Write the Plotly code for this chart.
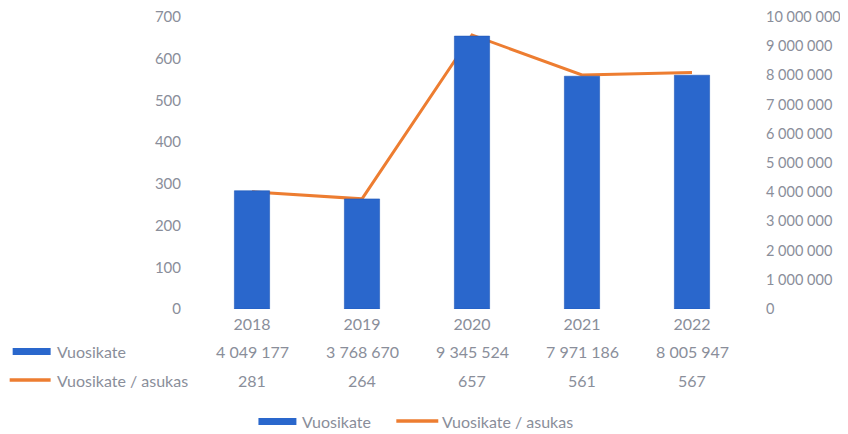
import plotly.graph_objects as go

years = ["2018", "2019", "2020", "2021", "2022"]
vuosikate = [4049177, 3768670, 9345524, 7971186, 8005947]
per_asukas = [281, 264, 657, 561, 567]
left_ticks = [0, 100, 200, 300, 400, 500, 600, 700]
right_ticks = [0, 1000000, 2000000, 3000000, 4000000, 5000000,
               6000000, 7000000, 8000000, 9000000, 10000000]
series_names = ["Vuosikate", "Vuosikate / asukas"]

# page has an 8px body margin; work in page pixel coordinates
OFF = 8
W, H = 848 - OFF, 434 - OFF
PL, PR, PT, PB = 196.5, 747, 17, 309   # plot area in page pixels
L, R, T, B = PL - OFF, W - (PR - OFF), PT - OFF, H - (PB - OFF)
PW, PH = PR - PL, PB - PT

def px(x):
    return (x - PL) / PW

def py(y):
    return (PB - y) / PH

BLUE = "#2A67CC"
ORANGE = "#ED7D31"
GREY = "#8A8E9A"
FONT = "Lato"
FS = 16
FT = 15
FR = 14.5

def fmt(v):
    return f"{v:,}".replace(",", " ")

fig = go.Figure()
fig.add_trace(go.Bar(x=years, y=vuosikate, name=series_names[0], yaxis="y2",
                     marker=dict(color=BLUE, line=dict(color="#1F58B8", width=0.6)),
                     width=0.32))
fig.add_trace(go.Scatter(x=years, y=per_asukas, name=series_names[1], yaxis="y",
                         mode="lines", line=dict(color=ORANGE, width=3)))

annotations = []
shapes = []
row_y = [351, 380]
n = len(years)
for i in range(n):
    cx = (i + 0.5) / n
    annotations.append(dict(x=cx, xref="paper", y=py(row_y[0]), yref="paper",
                            text=fmt(vuosikate[i]), showarrow=False,
                            xanchor="center", yanchor="middle",
                            font=dict(family=FONT, size=FS, color=GREY)))
    annotations.append(dict(x=cx, xref="paper", y=py(row_y[1]), yref="paper",
                            text=str(per_asukas[i]), showarrow=False,
                            xanchor="center", yanchor="middle",
                            font=dict(family=FONT, size=FS, color=GREY)))

# table row keys
shapes.append(dict(type="rect", xref="paper", yref="paper",
                   x0=px(12), x1=px(50), y0=py(355), y1=py(348),
                   fillcolor=BLUE, line=dict(width=0)))
shapes.append(dict(type="line", xref="paper", yref="paper",
                   x0=px(9), x1=px(50), y0=py(380), y1=py(380),
                   line=dict(color=ORANGE, width=3.5)))
for name, yy in zip(series_names, row_y):
    annotations.append(dict(x=px(54), xref="paper", y=py(yy), yref="paper",
                            text=name, showarrow=False, xanchor="left",
                            yanchor="middle",
                            font=dict(family=FONT, size=FS, color=GREY)))

# bottom legend
shapes.append(dict(type="rect", xref="paper", yref="paper",
                   x0=px(258), x1=px(296), y0=py(425), y1=py(418),
                   fillcolor=BLUE, line=dict(width=0)))
shapes.append(dict(type="line", xref="paper", yref="paper",
                   x0=px(396), x1=px(438), y0=py(421), y1=py(421),
                   line=dict(color=ORANGE, width=3.5)))
annotations.append(dict(x=px(300), xref="paper", y=py(421), yref="paper",
                        text=series_names[0], showarrow=False, xanchor="left",
                        yanchor="middle",
                        font=dict(family=FONT, size=FS, color=GREY)))
annotations.append(dict(x=px(440), xref="paper", y=py(421), yref="paper",
                        text=series_names[1], showarrow=False, xanchor="left",
                        yanchor="middle",
                        font=dict(family=FONT, size=FS, color=GREY)))

fig.update_layout(
    width=W, height=H,
    margin=dict(l=L, r=R, t=T, b=B, pad=0, autoexpand=False),
    paper_bgcolor="white", plot_bgcolor="white",
    showlegend=False,
    separators=", ",
    font=dict(family=FONT, size=FS, color=GREY),
    xaxis=dict(type="category", range=[-0.5, n - 0.5], showgrid=False,
               zeroline=False, showline=False, ticks="", automargin=False,
               ticklabelstandoff=4, ticklabeloverflow="allow",
               tickfont=dict(size=FS, color=GREY)),
    yaxis=dict(range=[0, 700], tickvals=left_ticks, showgrid=False, zeroline=False,
               showline=False, ticks="", ticklabelstandoff=15, automargin=False,
               ticklabeloverflow="allow",
               tickfont=dict(size=FT, color=GREY)),
    yaxis2=dict(range=[0, 10000000], tickvals=right_ticks,
                ticktext=[fmt(v) for v in right_ticks],
                overlaying="y", side="right", showgrid=False, zeroline=False,
                showline=False, ticks="", ticklabelstandoff=18, automargin=False,
                ticklabeloverflow="allow",
                tickfont=dict(size=FR, color=GREY)),
    annotations=annotations,
    shapes=shapes,
)

fig.write_html("out.html")
